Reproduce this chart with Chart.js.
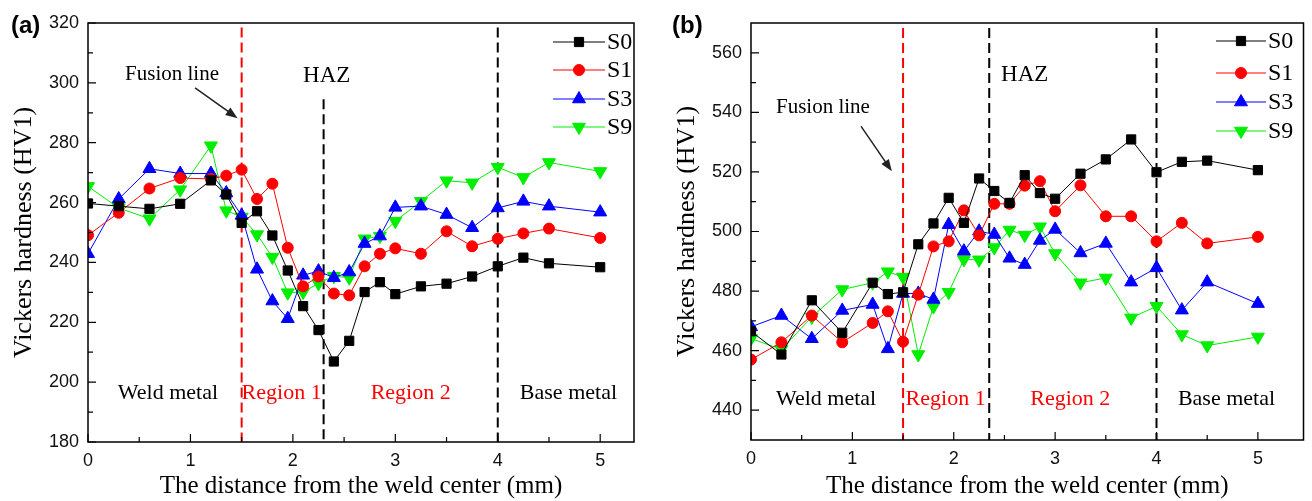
<!DOCTYPE html>
<html>
<head>
<meta charset="utf-8">
<script src="https://cdn.jsdelivr.net/npm/chart.js@4.4.0/dist/chart.umd.min.js"></script>
<style>
  body { margin: 0; background: #fff; width: 1312px; height: 501px; overflow: hidden; position: relative; }
  canvas { position: absolute; top: 0; }
  #chart-a { left: 0; }
  #chart-b { left: 655px; }
</style>
</head>
<body>
<canvas id="chart-a" width="650" height="501"></canvas>
<canvas id="chart-b" width="657" height="501"></canvas>
<script>
"use strict";

// distance from weld center (mm), shared by every series
const distances = [0, 0.3, 0.6, 0.9, 1.2, 1.35, 1.5, 1.65, 1.8, 1.95, 2.1, 2.25, 2.4, 2.55, 2.7, 2.85, 3.0, 3.25, 3.5, 3.75, 4.0, 4.25, 4.5, 5.0];
const seriesNames = ["S0", "S1", "S3", "S9"];

// panel (a)
const hvA_S0 = [259.7, 258.8, 257.9, 259.6, 267.4, 262.7, 253.2, 257.1, 249.0, 237.3, 225.4, 217.4, 206.9, 213.8, 230.1, 233.4, 229.4, 232.0, 232.9, 235.3, 238.7, 241.6, 239.7, 238.4];
const hvA_S1 = [249.1, 256.6, 264.7, 268.2, 267.9, 269.0, 271.0, 261.2, 266.3, 244.9, 232.0, 235.3, 229.6, 229.0, 238.7, 242.9, 244.7, 242.9, 250.4, 245.4, 247.9, 249.7, 251.3, 248.2];
const hvA_S3 = [242.9, 261.2, 271.3, 269.7, 269.7, 263.2, 255.7, 237.7, 227.1, 221.2, 235.7, 237.1, 234.9, 236.8, 246.3, 248.8, 258.4, 258.8, 256.0, 251.6, 258.2, 260.4, 258.8, 256.8];
const hvA_S9 = [265.4, 258.2, 254.6, 264.3, 279.0, 257.3, 255.2, 249.3, 241.8, 229.9, 230.1, 233.0, 235.4, 234.9, 247.9, 248.8, 253.8, 260.4, 267.3, 266.6, 271.8, 268.4, 273.4, 270.4];

// panel (b)
const hvB_S0 = [466.5, 458.7, 476.9, 466.0, 482.8, 479.0, 479.6, 495.7, 502.7, 511.3, 502.9, 517.8, 513.6, 509.6, 518.9, 512.9, 511.0, 519.4, 524.2, 530.9, 519.9, 523.4, 523.8, 520.6];
const hvB_S1 = [457.0, 462.8, 471.8, 462.8, 469.3, 473.2, 463.0, 478.8, 495.0, 496.7, 507.1, 498.7, 509.3, 509.3, 515.4, 516.9, 506.8, 515.5, 505.1, 505.1, 496.7, 502.9, 496.0, 498.2];
const hvB_S3 = [468.0, 471.8, 464.0, 473.5, 475.5, 460.6, 479.2, 479.2, 477.2, 502.3, 493.4, 500.1, 499.0, 491.0, 488.9, 497.0, 500.7, 492.8, 496.0, 483.0, 487.8, 473.6, 483.0, 475.8];
const hvB_S9 = [464.1, 460.4, 471.3, 480.5, 482.8, 486.5, 484.7, 458.7, 474.8, 479.6, 490.6, 490.5, 494.6, 500.5, 498.8, 501.6, 492.6, 482.8, 484.4, 471.0, 474.9, 465.4, 461.7, 464.6];

const xTicks = [0, 1, 2, 3, 4, 5];
const yTicksA = [180, 200, 220, 240, 260, 280, 300, 320];
const yTicksB = [440, 460, 480, 500, 520, 540, 560];
const zoneNames = ["Weld metal", "Region 1", "Region 2", "Base metal"];

const SERIF = '"Liberation Serif", "Times New Roman", serif';
const SANS = '"Liberation Sans", Arial, sans-serif';

const markers = [
  { color: "#000000", pointStyle: "rect", radius: 6.5, rotation: 0 },
  { color: "#ff0000", pointStyle: "circle", radius: 5.5, rotation: 0 },
  { color: "#0000ff", pointStyle: "triangle", radius: 7.5, rotation: 0 },
  { color: "#00ee00", pointStyle: "triangle", radius: 7.5, rotation: 180 },
];

function makeDatasets(seriesValues) {
  return seriesValues.map((vals, i) => ({
    label: seriesNames[i],
    data: distances.map((d, j) => ({ x: d, y: vals[j] })),
    borderColor: markers[i].color,
    backgroundColor: markers[i].color,
    borderWidth: 1,
    pointStyle: markers[i].pointStyle,
    pointRotation: markers[i].rotation,
    pointRadius: markers[i].radius,
    pointBorderWidth: 1,
    pointBackgroundColor: markers[i].color,
    pointBorderColor: markers[i].color,
    tension: 0,
  }));
}

function minorsOf(ticks, step, min, max) {
  const out = [];
  ticks.forEach((v) => {
    [v - step / 2, v + step / 2].forEach((m) => {
      if (m > min && m < max && !out.includes(m)) out.push(m);
    });
  });
  return out;
}

function decorPlugin(p) {
  return {
    id: "decor",
    beforeDatasetsDraw(chart) {
      const { ctx, scales: { x, y } } = chart;
      ctx.save();
      ctx.lineWidth = 2;
      ctx.setLineDash([10, 5]);
      p.vlines.forEach((v) => {
        ctx.strokeStyle = v.color;
        ctx.beginPath();
        ctx.moveTo(x.getPixelForValue(v.x), y.getPixelForValue(v.from));
        ctx.lineTo(x.getPixelForValue(v.x), y.getPixelForValue(v.to));
        ctx.stroke();
      });
      ctx.restore();
    },
    afterDraw(chart) {
      const { ctx, chartArea: a, scales: { x, y } } = chart;
      ctx.save();

      // frame
      ctx.strokeStyle = "#000";
      ctx.lineWidth = 1.5;
      ctx.strokeRect(a.left, a.top, a.right - a.left, a.bottom - a.top);

      // inward ticks
      ctx.lineWidth = 1.2;
      ctx.beginPath();
      xTicks.forEach((v) => {
        const px = x.getPixelForValue(v);
        ctx.moveTo(px, a.bottom); ctx.lineTo(px, a.bottom - 8);
      });
      minorsOf(xTicks, 1, x.min, x.max).forEach((v) => {
        const px = x.getPixelForValue(v);
        ctx.moveTo(px, a.bottom); ctx.lineTo(px, a.bottom - 5);
      });
      p.yTicks.forEach((v) => {
        const py = y.getPixelForValue(v);
        ctx.moveTo(a.left, py); ctx.lineTo(a.left + 8, py);
      });
      minorsOf(p.yTicks, 20, y.min, y.max).forEach((v) => {
        const py = y.getPixelForValue(v);
        ctx.moveTo(a.left, py); ctx.lineTo(a.left + 5, py);
      });
      ctx.stroke();

      // annotation texts
      ctx.textAlign = "center";
      ctx.textBaseline = "middle";
      p.texts.forEach((t) => {
        ctx.font = `${t.size}px ${SERIF}`;
        ctx.fillStyle = t.color || "#000";
        ctx.fillText(t.text, x.getPixelForValue(t.x), y.getPixelForValue(t.y));
      });

      // arrow to the fusion line
      const x1 = x.getPixelForValue(p.arrow[0]), y1 = y.getPixelForValue(p.arrow[1]);
      const x2 = x.getPixelForValue(p.arrow[2]), y2 = y.getPixelForValue(p.arrow[3]);
      const ang = Math.atan2(y2 - y1, x2 - x1);
      ctx.strokeStyle = "#222";
      ctx.fillStyle = "#222";
      ctx.lineWidth = 1.5;
      ctx.beginPath();
      ctx.moveTo(x1, y1);
      ctx.lineTo(x2 - 6 * Math.cos(ang), y2 - 6 * Math.sin(ang));
      ctx.stroke();
      ctx.beginPath();
      ctx.moveTo(x2, y2);
      ctx.lineTo(x2 - 12 * Math.cos(ang) + 4.5 * Math.sin(ang), y2 - 12 * Math.sin(ang) - 4.5 * Math.cos(ang));
      ctx.lineTo(x2 - 12 * Math.cos(ang) - 4.5 * Math.sin(ang), y2 - 12 * Math.sin(ang) + 4.5 * Math.cos(ang));
      ctx.closePath();
      ctx.fill();

      // legend
      const L = p.legend;
      chart.data.datasets.forEach((ds, i) => {
        const ly = L.rows[i];
        ctx.strokeStyle = ds.borderColor;
        ctx.lineWidth = 1;
        ctx.beginPath();
        ctx.moveTo(L.x1, ly); ctx.lineTo(L.x2, ly);
        ctx.stroke();
        ctx.fillStyle = ds.pointBackgroundColor;
        ctx.strokeStyle = ds.pointBorderColor;
        Chart.helpers.drawPoint(ctx, {
          pointStyle: ds.pointStyle, rotation: ds.pointRotation,
          radius: ds.pointRadius, borderWidth: 1,
        }, (L.x1 + L.x2) / 2, ly);
        ctx.fillStyle = "#000";
        ctx.textAlign = "left";
        ctx.font = `24px ${SERIF}`;
        ctx.fillText(ds.label, L.x2 + 2, ly + 1);
      });

      // panel tag
      ctx.font = `bold 24px ${SANS}`;
      ctx.textAlign = "left";
      ctx.fillStyle = "#000";
      ctx.fillText(p.tag, p.tagX, 26);
      ctx.restore();
    },
  };
}

function createChart(canvasId, seriesValues, p) {
  return new Chart(document.getElementById(canvasId), {
    type: "line",
    data: { datasets: makeDatasets(seriesValues) },
    options: {
      responsive: false,
      animation: false,
      devicePixelRatio: 1,
      layout: { padding: { top: 23, right: p.padRight, left: 0, bottom: 0 } },
      plugins: { legend: { display: false }, tooltip: { enabled: false } },
      scales: {
        x: {
          type: "linear",
          min: 0,
          max: p.xMax,
          afterBuildTicks: (s) => { s.ticks = xTicks.map((v) => ({ value: v })); },
          afterFit: (s) => { s.height = p.xAxisHeight; },
          grid: { display: false, drawTicks: false },
          border: { display: false },
          ticks: { padding: 8, color: "#111", font: { family: SANS, size: 18 } },
          title: {
            display: true, text: "The distance from the weld center (mm)", color: "#000",
            font: { family: SERIF, size: 25 }, padding: { top: 0, bottom: 0 },
          },
        },
        y: {
          min: p.yMin,
          max: p.yMax,
          afterBuildTicks: (s) => { s.ticks = p.yTicks.map((v) => ({ value: v })); },
          afterFit: (s) => { s.width = p.yAxisWidth; },
          grid: { display: false, drawTicks: false },
          border: { display: false },
          ticks: { padding: 9, color: "#111", font: { family: SANS, size: 18 } },
          title: {
            display: true, text: "Vickers hardness (HV1)", color: "#000",
            font: { family: SERIF, size: 26 }, padding: { top: p.yTitlePad, bottom: 0 },
          },
        },
      },
    },
    plugins: [decorPlugin(p)],
  });
}

createChart("chart-a", [hvA_S0, hvA_S1, hvA_S3, hvA_S9], {
  tag: "(a)", tagX: 11,
  xMax: 5.33, yMin: 180, yMax: 320, yTicks: yTicksA,
  yAxisWidth: 88, xAxisHeight: 59, padRight: 16, yTitlePad: 9,
  vlines: [
    { x: 1.5, from: 318.5, to: 180, color: "#ff0000" },
    { x: 2.3, from: 294.5, to: 180, color: "#000" },
    { x: 4.0, from: 318.5, to: 180, color: "#000" },
  ],
  texts: [
    { text: "Fusion line", x: 0.82, y: 302.7, size: 21 },
    { text: "HAZ", x: 2.33, y: 302.3, size: 23 },
    { text: zoneNames[0], x: 0.78, y: 196.3, size: 22 },
    { text: zoneNames[1], x: 1.89, y: 196.3, size: 22, color: "#ff0000" },
    { text: zoneNames[2], x: 3.15, y: 196.3, size: 22, color: "#ff0000" },
    { text: zoneNames[3], x: 4.69, y: 196.3, size: 22 },
  ],
  arrow: [1.045, 298.3, 1.46, 288.2],
  legend: { x1: 553, x2: 605, rows: [42, 70, 99, 127] },
});

createChart("chart-b", [hvB_S0, hvB_S1, hvB_S3, hvB_S9], {
  tag: "(b)", tagX: 17,
  xMax: 5.45, yMin: 430, yMax: 570, yTicks: yTicksB,
  yAxisWidth: 96, xAxisHeight: 61, padRight: 3, yTitlePad: 17,
  vlines: [
    { x: 1.5, from: 568.3, to: 430, color: "#ff0000" },
    { x: 2.35, from: 568.3, to: 430, color: "#000" },
    { x: 4.0, from: 568.3, to: 430, color: "#000" },
  ],
  texts: [
    { text: "Fusion line", x: 0.71, y: 541.6, size: 21 },
    { text: "HAZ", x: 2.7, y: 552.4, size: 23 },
    { text: zoneNames[0], x: 0.74, y: 443.8, size: 22 },
    { text: zoneNames[1], x: 1.92, y: 443.8, size: 22, color: "#ff0000" },
    { text: zoneNames[2], x: 3.15, y: 443.8, size: 22, color: "#ff0000" },
    { text: zoneNames[3], x: 4.69, y: 443.8, size: 22 },
  ],
  arrow: [1.086, 535.3, 1.39, 520.2],
  legend: { x1: 561, x2: 611, rows: [41, 73, 102, 131] },
});
</script>
</body>
</html>
